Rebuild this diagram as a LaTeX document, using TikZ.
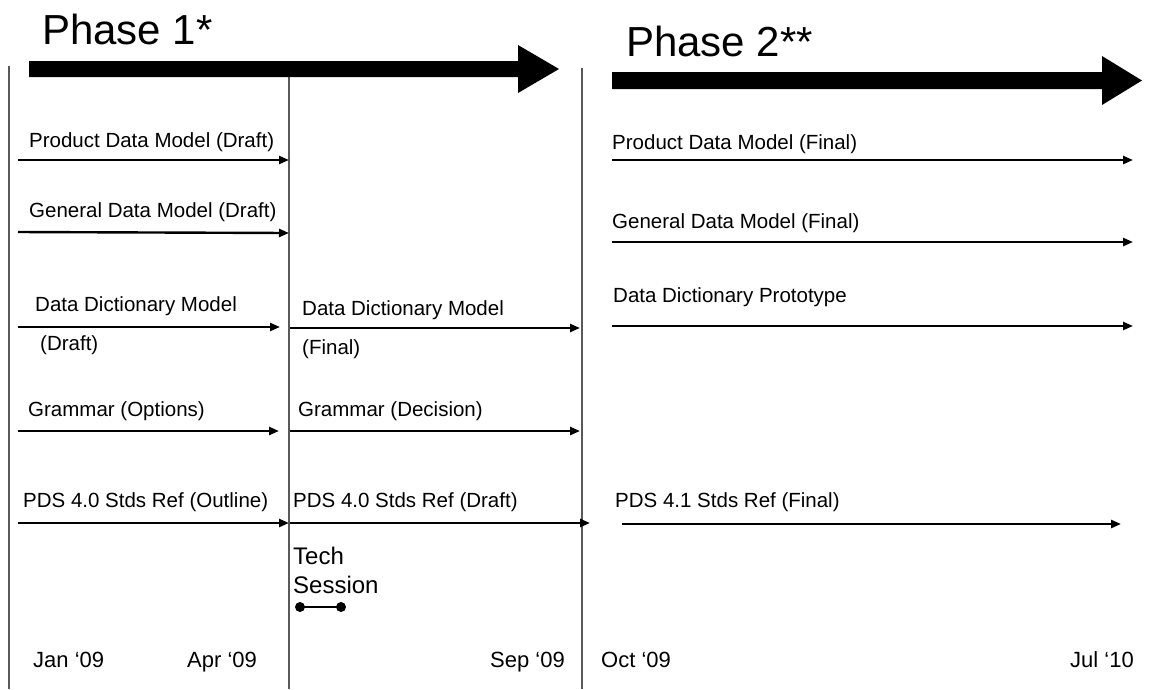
\documentclass[tikz,border=0pt]{standalone}
\usepackage{fontspec}
\setmainfont{Liberation Sans}
\usetikzlibrary{arrows.meta}
\begin{document}
\begin{tikzpicture}[x=1pt,y=-1pt,
  lbl/.style={anchor=base west,inner sep=0pt,font=\fontsize{20.5}{24}\selectfont},
  datelbl/.style={anchor=base west,inner sep=0pt,font=\fontsize{22}{26}\selectfont},
  techlbl/.style={anchor=base west,inner sep=0pt,font=\fontsize{24}{28}\selectfont},
  phase/.style={anchor=base west,inner sep=0pt,font=\fontsize{42}{48}\selectfont},
  task/.style={line width=2.4pt,-{Triangle[length=10pt,width=8pt]}},
  divider/.style={line width=1.3pt,draw=black!65},
  bigarrow/.style={fill=black},
  dot/.style={circle,fill=black,inner sep=0pt,minimum size=10pt}]
\useasboundingbox[fill=white] (0,0) rectangle (1150,689);

% dividers
\coordinate (d1t) at (9,66);   \coordinate (d1b) at (9,689);
\coordinate (d2t) at (289,77); \coordinate (d2b) at (289,689);
\coordinate (d3t) at (582,68); \coordinate (d3b) at (582,689);
\draw[divider] (d1t) -- (d1b);
\draw[divider] (d2t) -- (d2b);
\draw[divider] (d3t) -- (d3b);

% phase arrows
\fill[bigarrow] (29,61) -- (518,61) -- (518,45) -- (559,69) -- (518,93) -- (518,77) -- (29,77) -- cycle;
\fill[bigarrow] (612,72) -- (1102,72) -- (1102,56) -- (1142,80.5) -- (1102,105) -- (1102,89) -- (612,89) -- cycle;
\node[phase] (p1) at (42,44) {Phase 1*};
\node[phase] (p2) at (626,56) {Phase 2**};

% left column
\node[lbl] (t1) at (29,147) {Product Data Model (Draft)};
\coordinate (a1s) at (18,160); \coordinate (a1e) at (289,160);
\draw[task] (a1s) -- (a1e);
\node[lbl] (t2) at (29,217) {General Data Model (Draft)};
\coordinate (a2s) at (18,232); \coordinate (a2e) at (289,233);
\draw[task] (a2s) -- (a2e);
\node[lbl] (t3) at (35,311) {Data Dictionary Model};
\node[lbl] (t3b) at (40,350) {(Draft)};
\coordinate (a3s) at (18,327); \coordinate (a3e) at (280,327);
\draw[task] (a3s) -- (a3e);
\node[lbl] (t4) at (28,416) {Grammar (Options)};
\coordinate (a4s) at (18,431); \coordinate (a4e) at (279,431);
\draw[task] (a4s) -- (a4e);
\node[lbl] (t5) at (23,507) {PDS 4.0 Stds Ref (Outline)};
\coordinate (a5s) at (18,523); \coordinate (a5e) at (289,523);
\draw[task] (a5s) -- (a5e);

% middle column
\node[lbl] (m3) at (302,315) {Data Dictionary Model};
\node[lbl] (m3b) at (302,354) {(Final)};
\coordinate (b3s) at (290,328); \coordinate (b3e) at (580,328);
\draw[task] (b3s) -- (b3e);
\node[lbl] (m4) at (298,416) {Grammar (Decision)};
\coordinate (b4s) at (290,431); \coordinate (b4e) at (580,431);
\draw[task] (b4s) -- (b4e);
\node[lbl] (m5) at (293,507) {PDS 4.0 Stds Ref (Draft)};
\coordinate (b5s) at (290,523); \coordinate (b5e) at (590,523);
\draw[task] (b5s) -- (b5e);

% phase 2 column
\node[lbl] (r1) at (612,149) {Product Data Model (Final)};
\coordinate (c1s) at (612,160); \coordinate (c1e) at (1133,160);
\draw[task] (c1s) -- (c1e);
\node[lbl] (r2) at (612,228) {General Data Model (Final)};
\coordinate (c2s) at (612,242); \coordinate (c2e) at (1133,242);
\draw[task] (c2s) -- (c2e);
\node[lbl] (r3) at (613,302) {Data Dictionary Prototype};
\coordinate (c3s) at (612,326); \coordinate (c3e) at (1133,326);
\draw[task] (c3s) -- (c3e);
\node[lbl] (r5) at (615,507) {PDS 4.1 Stds Ref (Final)};
\coordinate (c5s) at (622,524); \coordinate (c5e) at (1121,524);
\draw[task] (c5s) -- (c5e);

% tech session
\node[techlbl] (tech) at (293,564) {Tech};
\node[techlbl] (sess) at (293,593) {Session};
\node[dot] (ts1) at (300,607) {};
\node[dot] (ts2) at (341,607) {};
\draw[line width=2.6pt] (ts1.center) -- (ts2.center);

% dates
\node[datelbl] (jan) at (33,667) {Jan ‘09};
\node[datelbl] (apr) at (187,667) {Apr ‘09};
\node[datelbl] (sep) at (490,667) {Sep ‘09};
\node[datelbl] (oct) at (601,667) {Oct ‘09};
\node[datelbl] (jul) at (1070,667) {Jul ‘10};
\end{tikzpicture}
\end{document}
